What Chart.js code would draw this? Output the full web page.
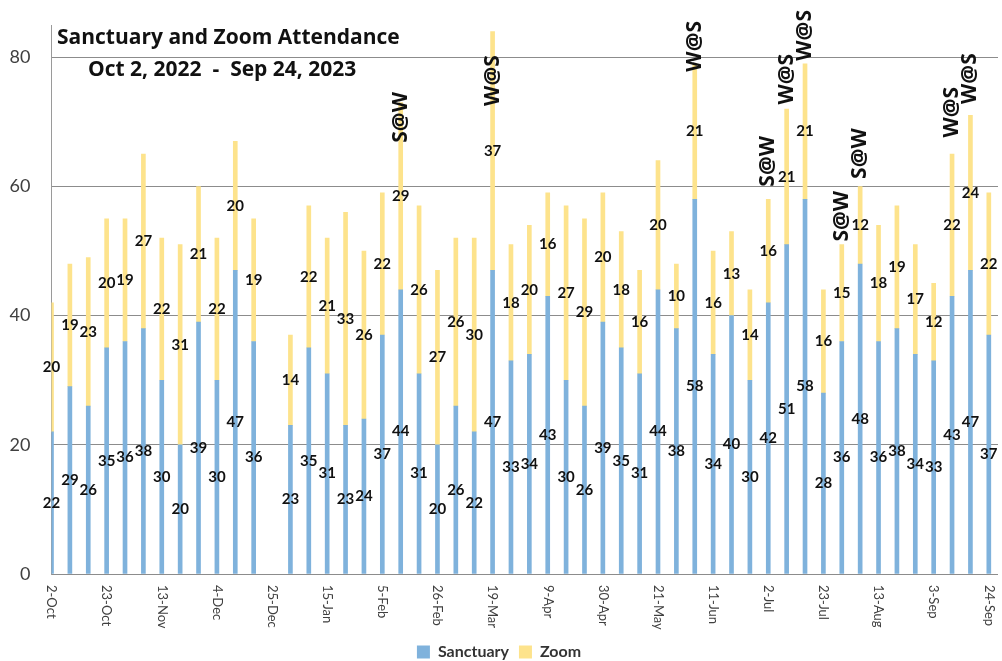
<!DOCTYPE html>
<html>
<head>
<meta charset="utf-8">
<script src="https://cdn.jsdelivr.net/npm/chart.js@4.4.0/dist/chart.umd.min.js"></script>
<style>
	html, body { margin: 0; padding: 0; background: #fff; }
	#wrap { width: 1002px; height: 661px; }
</style>
</head>
<body>
<div id="wrap"><canvas id="chart"></canvas></div>
<script>
const weeks = ['2-Oct','9-Oct','16-Oct','23-Oct','30-Oct','6-Nov','13-Nov','20-Nov','27-Nov','4-Dec','11-Dec','18-Dec','25-Dec',
	'1-Jan','8-Jan','15-Jan','22-Jan','29-Jan','5-Feb','12-Feb','19-Feb','26-Feb','5-Mar','12-Mar','19-Mar','26-Mar',
	'2-Apr','9-Apr','16-Apr','23-Apr','30-Apr','7-May','14-May','21-May','28-May','4-Jun','11-Jun','18-Jun','25-Jun',
	'2-Jul','9-Jul','16-Jul','23-Jul','30-Jul','6-Aug','13-Aug','20-Aug','27-Aug','3-Sep','10-Sep','17-Sep','24-Sep'];

const sanctuary = [22,29,26,35,36,38,30,20,39,30,47,36,null,23,35,31,23,24,37,44,31,20,26,22,47,33,
	34,43,30,26,39,35,31,44,38,58,34,40,30,42,51,58,28,36,48,36,38,34,33,43,47,37];
const zoom = [20,19,23,20,19,27,22,31,21,22,20,19,null,14,22,21,33,26,22,29,26,27,26,30,37,18,
	20,16,27,29,20,18,16,20,10,21,16,13,14,16,21,21,16,15,12,18,19,17,12,22,24,22];

// every third week gets a label on the axis
const labelEvery = 3;

// hand written notes above some weeks
const noteWeeks = [19, 24, 35, 39, 40, 41, 43, 44, 49, 50];
const noteTexts = ['S@W','W@S','W@S','S@W','W@S','W@S','S@W','S@W','W@S','W@S'];
const noteLevels = [70.7, 76.4, 81.7, 63.9, 76.6, 83.4, 55.4, 65.1, 71.5, 76.7];

const titleLines = ['Sanctuary and Zoom Attendance', 'Oct 2, 2022  -  Sep 24, 2023'];

const FONT = 'Lato, "Open Sans", sans-serif';
const WIDE = '"Open Sans", Lato, sans-serif';
Chart.defaults.font.family = FONT;

const sketchText = {
	id: 'sketchText',
	afterDatasetsDraw(chart) {
		const ctx = chart.ctx;
		ctx.save();
		ctx.fillStyle = '#111';
		ctx.font = 'bold 15px ' + FONT;
		ctx.textAlign = 'center';
		ctx.textBaseline = 'middle';
		[0, 1].forEach(d => {
			chart.getDatasetMeta(d).data.forEach((bar, i) => {
				const v = chart.data.datasets[d].data[i].y;
				if (v == null) return;
				ctx.fillText(v, bar.x, (bar.y + bar.base) / 2);
			});
		});
		ctx.restore();
	},
	afterDraw(chart) {
		const {ctx, scales: {x, y}} = chart;
		ctx.save();
		ctx.fillStyle = '#404040';
		ctx.font = '13px ' + FONT;
		ctx.textAlign = 'left';
		ctx.textBaseline = 'middle';
		weeks.forEach((w, i) => {
			if (i % labelEvery !== 0) return;
			ctx.save();
			ctx.translate(x.getPixelForValue(i), x.top + 11);
			ctx.rotate(Math.PI / 2);
			ctx.fillText(w, 0, 0);
			ctx.restore();
		});

		ctx.fillStyle = '#111';
		ctx.font = 'bold 21px ' + WIDE;
		ctx.textAlign = 'center';
		noteWeeks.forEach((wk, k) => {
			ctx.save();
			ctx.translate(x.getPixelForValue(wk), y.getPixelForValue(noteLevels[k]));
			ctx.rotate(-Math.PI / 2);
			ctx.fillText(noteTexts[k], 0, 0);
			ctx.restore();
		});

		ctx.font = 'bold 21px ' + WIDE;
		ctx.textAlign = 'left';
		ctx.fillText(titleLines[0], 57, 38);
		ctx.fillText(titleLines[1], 88, 70);
		ctx.restore();
	}
};

const chart = new Chart(document.getElementById('chart'), {
	type: 'bar',
	data: {
		datasets: [{
			label: 'Sanctuary',
			data: weeks.map((w, i) => ({x: i, y: sanctuary[i]})),
			backgroundColor: '#7fb2dc',
			borderWidth: 0,
			barThickness: 4
		}, {
			label: 'Zoom',
			data: weeks.map((w, i) => ({x: i, y: zoom[i]})),
			backgroundColor: '#fde38c',
			borderWidth: 0,
			barThickness: 4
		}]
	},
	options: {
		responsive: true,
		maintainAspectRatio: false,
		animation: false,
		layout: {
			padding: {top: 25, right: 4, left: 0, bottom: -9}
		},
		scales: {
			x: {
				type: 'linear',
				min: 0,
				max: 51.5,
				stacked: true,
				offset: false,
				ticks: {display: false},
				grid: {display: false, offset: false},
				border: {display: false},
				afterFit(s) { s.height = 60; }
			},
			y: {
				stacked: true,
				min: 0,
				max: 85,
				ticks: {
					stepSize: 20,
					includeBounds: false,
					padding: 21,
					color: '#404040',
					font: {size: 18}
				},
				grid: {color: '#8c8c8c', drawTicks: false},
				border: {color: '#9a9a9a'},
				afterFit(s) {
					s.width = 51.5;
					s.paddingTop = 0;
					s.paddingBottom = 0;
				}
			}
		},
		plugins: {
			legend: {
				position: 'bottom',
				labels: {
					boxWidth: 13,
					boxHeight: 13,
					padding: 10,
					color: '#333',
					font: {size: 16, weight: 'bold'}
				}
			},
			tooltip: {enabled: false}
		}
	},
	plugins: [sketchText]
});
</script>
</body>
</html>
